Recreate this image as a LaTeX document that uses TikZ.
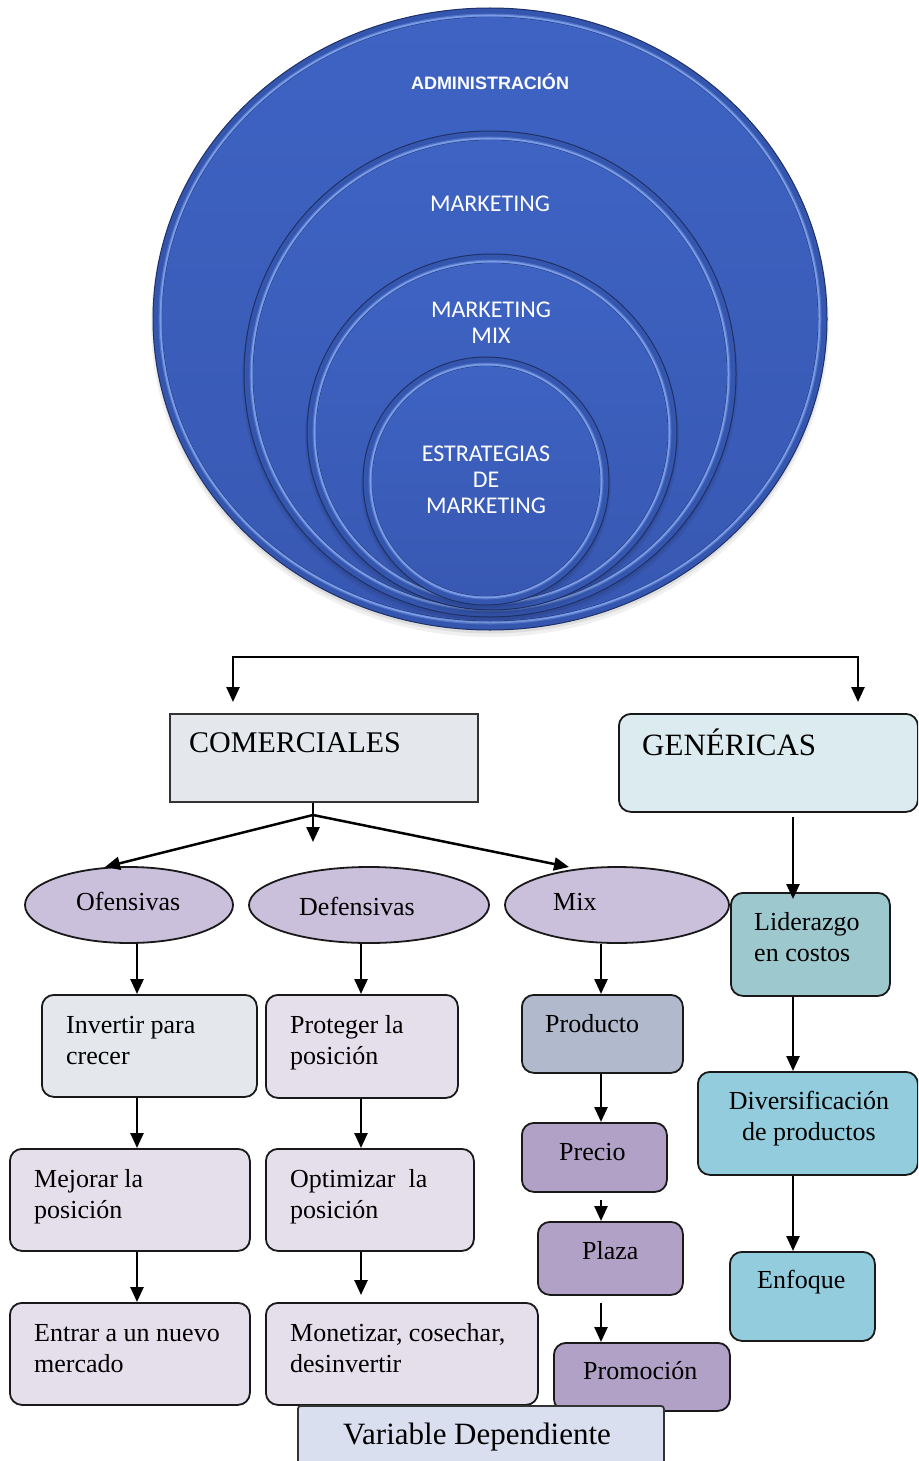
\documentclass[tikz,border=0pt]{standalone}
\usepackage{fontspec}
\setmainfont{Liberation Serif}
\newfontfamily\carlito{Carlito}
\newfontfamily\arialfont{Liberation Sans}
\usetikzlibrary{shapes.geometric,arrows.meta,calc}

% palette
\definecolor{ballband}{HTML}{3556AE}
\definecolor{ballline}{HTML}{1F3166}
\definecolor{ballhigh}{HTML}{86A8F0}
\definecolor{balltop}{HTML}{3E63C3}
\definecolor{ballbot}{HTML}{3858B2}
\definecolor{comfill}{HTML}{E4E7EC}
\definecolor{genfill}{HTML}{DCEBEF}
\definecolor{ellfill}{HTML}{CAC0DC}
\definecolor{lavfill}{HTML}{E5DFEC}
\definecolor{prodfill}{HTML}{B1BACD}
\definecolor{purfill}{HTML}{B1A1C7}
\definecolor{lidfill}{HTML}{9DC8CE}
\definecolor{tealfill}{HTML}{93CDDD}
\definecolor{varfill}{HTML}{D9DFEF}

\tikzset{
  ball/.style={ellipse, draw=ballline, line width=1pt, fill=ballband, inner sep=0pt},
  ballglow/.style={draw=ballhigh, line width=4pt, opacity=0.35},
  ballhi/.style={draw=ballhigh, line width=1.6pt, opacity=0.8},
  ballcore/.style={top color=balltop, bottom color=ballbot},
  ctext/.style={anchor=base, inner sep=0pt, text=white, font=\carlito\fontsize{24}{26}\selectfont},
  tip/.style={Triangle[length=15pt,width=13pt]},
  arr/.style={line width=2.5pt, -{Triangle[length=15pt,width=13pt]}},
  box/.style={draw=black!90, line width=1.8pt, rounded corners=12pt, inner sep=0pt},
  sqbox/.style={draw=black!80, line width=1.8pt, inner sep=0pt},
  ell/.style={ellipse, draw=black!90, line width=1.8pt, fill=ellfill, inner sep=0pt},
  txt/.style={anchor=base west, inner sep=0pt, font=\fontsize{26}{31.5}\selectfont},
  ctxt/.style={anchor=base, inner sep=0pt, font=\fontsize{26}{31.5}\selectfont},
  big/.style={anchor=base west, inner sep=0pt, font=\fontsize{31}{36}\selectfont},
}

% bevelled disc: name, cx, cy, rx, ry
\newcommand\bevelball[5]{%
  \fill[black, opacity=0.06] (#2,#3+5) ellipse [x radius=#4+2, y radius=#5+2];
  \fill[black, opacity=0.08] (#2,#3+3) ellipse [x radius=#4+0.5, y radius=#5+0.5];
  \node[ball, minimum width={2*#4*1pt}, minimum height={2*#5*1pt}] (#1) at (#2,#3) {};
  \draw[ballglow] (#2,#3) ellipse [x radius={#4-7.5}, y radius={#5-7.5}];
  \draw[ballhi] (#2,#3) ellipse [x radius={#4-7.5}, y radius={#5-7.5}];
  \fill[ballcore] (#2,#3) ellipse [x radius={#4-9}, y radius={#5-9}];
}
% box from corner (x1,y1) to corner (x2,y2): name, style, x1, y1, x2, y2
\newcommand\rbox[6]{%
  \node[#2, anchor=north west, minimum width={(#5-#3)*1pt}, minimum height={(#6-#4)*1pt}] (#1) at (#3,#4) {};
}

\begin{document}
\begin{tikzpicture}[x=1pt,y=-1pt]
\useasboundingbox (0,0) rectangle (918,1461);
\clip (0,0) rectangle (918,1461);
\fill[white] (0,0) rectangle (918,1461);

% nested discs
\bevelball{cadm}{490}{319}{337}{311}
\bevelball{cmkt}{490}{374}{246}{243}
\bevelball{cmix}{492}{432}{185}{178}
\bevelball{cest}{486}{481}{123}{124}

\node[ctext, font=\arialfont\bfseries\fontsize{18}{21}\selectfont] (tadm) at (490,90) {ADMINISTRACIÓN};
\node[ctext] (tmkt) at (490,211) {MARKETING};
\node[ctext] (tmix) at (491,317.5) {\begin{tabular}[t]{@{}c@{}}MARKETING\\MIX\end{tabular}};
\node[ctext] (test) at (486,461) {\begin{tabular}[t]{@{}c@{}}ESTRATEGIAS\\DE\\MARKETING\end{tabular}};

% top split connector
\coordinate (topl) at (233,702);
\coordinate (topr) at (858,702);
\draw[line width=2.5pt, {Triangle[length=15pt,width=13pt]}-{Triangle[length=15pt,width=13pt]}]
  (topl) -- ++(0,-45) -| (topr);

% boxes
\rbox{com}{sqbox, fill=comfill}{169}{713}{477}{801}
\rbox{gen}{box, fill=genfill}{618}{713}{917}{811}
\rbox{lid}{box, fill=lidfill}{730}{892}{889}{995}
\rbox{inv}{box, fill=comfill}{41}{994}{256}{1096}
\rbox{pro}{box, fill=lavfill}{265}{994}{457}{1097}
\rbox{prod}{box, fill=prodfill}{521}{994}{682}{1072}
\rbox{div}{box, fill=tealfill}{697}{1071}{917}{1174}
\rbox{mej}{box, fill=lavfill}{9}{1148}{249}{1250}
\rbox{opt}{box, fill=lavfill}{265}{1148}{473}{1250}
\rbox{prec}{box, fill=purfill}{521}{1122}{666}{1191}
\rbox{pla}{box, fill=purfill}{537}{1221}{682}{1294}
\rbox{enf}{box, fill=tealfill}{729}{1251}{874}{1340}
\rbox{ent}{box, fill=lavfill}{9}{1302}{249}{1404}
\rbox{mon}{box, fill=lavfill}{265}{1302}{537}{1404}
\rbox{prom}{box, fill=purfill}{553}{1342}{729}{1410}
\rbox{var}{sqbox, rounded corners=3pt, fill=varfill}{297}{1405}{663}{1480}

% ellipses
\node[ell, minimum width=208pt, minimum height=76pt] (ofe) at (129,905) {};
\node[ell, minimum width=240pt, minimum height=76pt] (def) at (369,905) {};
\node[ell, minimum width=224pt, minimum height=76pt] (mixe) at (617,905) {};

% texts
\node[anchor=base west, inner sep=0pt, font=\fontsize{30}{36}\selectfont] (tcom) at (189,752) {COMERCIALES};
\node[big] (tgen) at (642,755) {GENÉRICAS};
\node[txt] (tofe) at (76,910) {Ofensivas};
\node[txt] (tdef) at (299,915) {Defensivas};
\node[txt] (tmixe) at (553,910) {Mix};
\node[txt] (tlid) at (754,930) {\begin{tabular}[t]{@{}l@{}}Liderazgo\\en costos\end{tabular}};
\node[txt] (tinv) at (66,1033) {\begin{tabular}[t]{@{}l@{}}Invertir para\\crecer\end{tabular}};
\node[txt] (tpro) at (290,1033) {\begin{tabular}[t]{@{}l@{}}Proteger la\\posición\end{tabular}};
\node[txt] (tprod) at (545,1032) {Producto};
\node[ctxt] (tdiv) at (809,1109) {\begin{tabular}[t]{@{}c@{}}Diversificación\\de productos\end{tabular}};
\node[txt] (tmej) at (34,1187) {\begin{tabular}[t]{@{}l@{}}Mejorar la\\posición\end{tabular}};
\node[txt] (topt) at (290,1187) {\begin{tabular}[t]{@{}l@{}}Optimizar\ \ la\\posición\end{tabular}};
\node[txt] (tprec) at (559,1160) {Precio};
\node[txt] (tpla) at (582,1259) {Plaza};
\node[txt] (tenf) at (757,1288) {Enfoque};
\node[txt] (tent) at (34,1341) {\begin{tabular}[t]{@{}l@{}}Entrar a un nuevo\\mercado\end{tabular}};
\node[txt] (tmon) at (290,1341) {\begin{tabular}[t]{@{}l@{}}Monetizar, cosechar,\\desinvertir\end{tabular}};
\node[txt] (tprom) at (583,1379) {Promoción};
\node[big] (tvar) at (343,1444) {Variable Dependiente};

% connector columns and free ends
\coordinate (colA) at (137,0);
\coordinate (colB) at (361,0);
\coordinate (colC) at (601,0);
\coordinate (colD) at (793,0);
\coordinate (br) at (313,815);
\coordinate (stemtip) at (313,842);
\coordinate (ofetip) at (105,867);
\coordinate (mixtip) at (569,867);
\coordinate (montip) at (361,1295);

% COMERCIALES branches
\draw[arr] (com.south -| br) -- (stemtip);
\draw[arr] (br) -- (ofetip);
\draw[arr] (br) -- (mixtip);

% Ofensivas column
\draw[arr] (ofe.south -| colA) -- (inv.north -| colA);
\draw[arr] (inv.south -| colA) -- (mej.north -| colA);
\draw[arr] (mej.south -| colA) -- (ent.north -| colA);

% Defensivas column
\draw[arr] (def.south -| colB) -- (pro.north -| colB);
\draw[arr] (pro.south -| colB) -- (opt.north -| colB);
\draw[arr] (opt.south -| colB) -- (montip);

% Mix column
\draw[arr] (mixe.south -| colC) -- (prod.north -| colC);
\draw[arr] (prod.south -| colC) -- (prec.north -| colC);
\draw[arr] ($(prec.south -| colC)+(0,7)$) -- (pla.north -| colC);
\draw[arr] ($(pla.south -| colC)+(0,7)$) -- (prom.north -| colC);

% GENÉRICAS column
\draw[arr] ($(gen.south -| colD)+(0,4)$) -- ($(lid.north -| colD)+(0,7)$);
\draw[arr] (lid.south -| colD) -- (div.north -| colD);
\draw[arr] (div.south -| colD) -- (enf.north -| colD);
\end{tikzpicture}
\end{document}
